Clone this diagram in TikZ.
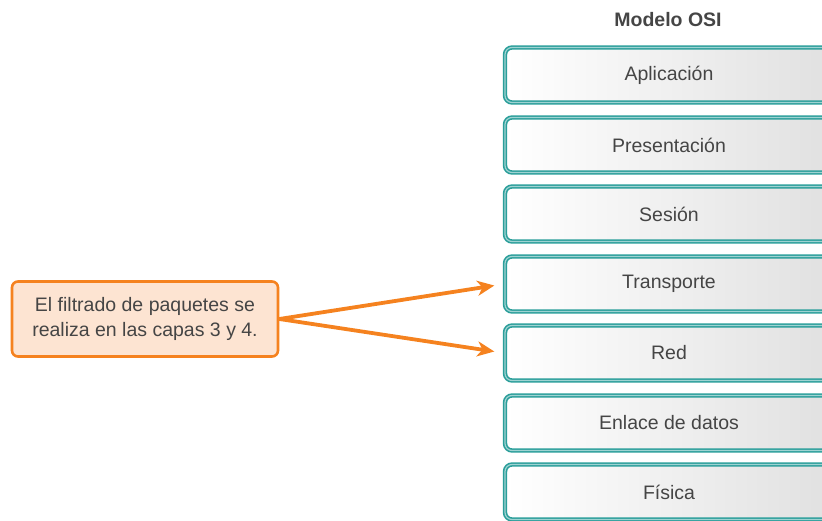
\documentclass[tikz,border=0pt]{standalone}
\usepackage{fontspec}
\setmainfont{Liberation Sans}
\usetikzlibrary{arrows.meta,positioning}
\definecolor{ositeal}{HTML}{2A9E9A}
\definecolor{osiorange}{HTML}{F5821F}
\definecolor{osipeach}{HTML}{FDE4D2}
\definecolor{ositext}{HTML}{454545}

\begin{document}
\begin{tikzpicture}[x=1pt, y=-1pt,
      layer/.style={draw=ositeal, line width=1.6pt, double=ositeal!45, double distance=1.2pt,
                    rounded corners=7pt, left color=white, right color=black!12,
                    minimum width=328pt, minimum height=55pt, text=ositext,
                    font=\fontsize{19.5}{22}\selectfont},
      note/.style={draw=osiorange, line width=2.6pt, fill=osipeach, rounded corners=6pt,
                   align=center, minimum width=266pt, minimum height=75pt, text=ositext,
                   font=\fontsize{19.5}{25}\selectfont},
      arr/.style={-{Stealth[length=17pt, width=15pt, inset=5pt]}, osiorange, line width=3.8pt,
                  shorten >=10pt}]
    \useasboundingbox (0,0) rectangle (822,521);
    \clip (0,0) rectangle (822,521);
    \node[text=ositext, font=\fontsize{19.5}{22}\selectfont\bfseries] (title) at (668,20) {Modelo OSI};
    \node[layer] (apl) at (669,75)  {Aplicación};
    \node[layer] (pre) at (669,145) {Presentación};
    \node[layer] (ses) at (669,214) {Sesión};
    \node[layer] (tra) at (669,284) {Transporte};
    \node[layer] (red) at (669,353) {Red};
    \node[layer] (enl) at (669,423) {Enlace de datos};
    \node[layer] (fis) at (669,492) {Física};
    \node[note] (filtro) at (145,319) {El filtrado de paquetes se\\realiza en las capas 3 y 4.};
    \foreach \n in {tra,red} \draw[arr] (filtro.east) -- (\n.west);
  \end{tikzpicture}
\end{document}
